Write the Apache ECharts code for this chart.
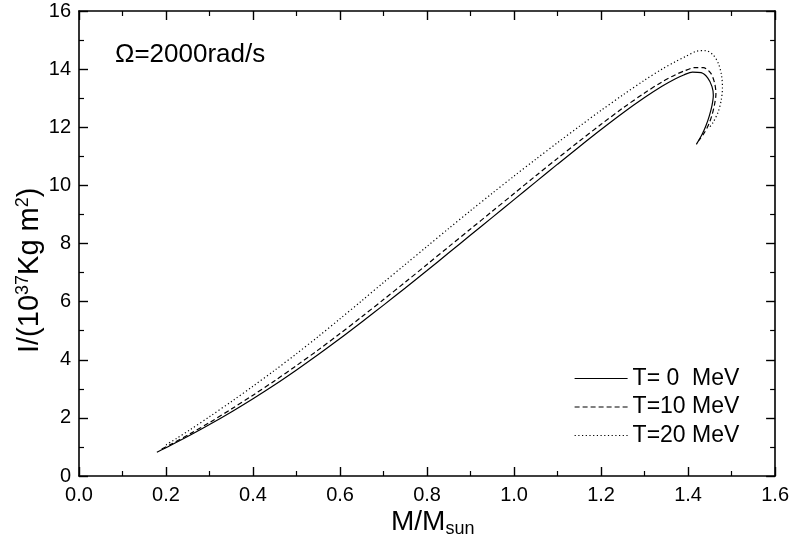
<!DOCTYPE html>
<html>
<head>
<meta charset="utf-8">
<script src="https://cdn.jsdelivr.net/npm/echarts@6/dist/echarts.min.js"></script>
<style>html,body{margin:0;padding:0;background:#fff}#c{width:792px;height:556px}</style>
</head>
<body>
<div id="c"></div>
<script>
var seriesNames = ['T= 0  MeV', 'T=10 MeV', 'T=20 MeV'];
var xTicks = [0.0, 0.2, 0.4, 0.6, 0.8, 1.0, 1.2, 1.4, 1.6];
var yTicks = [0, 2, 4, 6, 8, 10, 12, 14, 16];

var massT0 = [0.179,0.21,0.255,0.30,0.354,0.40,0.45,0.50,0.55,0.60,0.65,0.70,0.75,0.80,0.85,0.90,0.95,1.00,1.05,1.10,1.15,1.20,1.25,1.30,1.34,1.37,1.39,1.41,1.43,1.445,1.455,1.458,1.455,1.449,1.441,1.432,1.419];
var inerT0 = [0.82,1.05,1.40,1.77,2.24,2.66,3.14,3.65,4.18,4.73,5.30,5.88,6.47,7.07,7.68,8.29,8.90,9.51,10.12,10.73,11.33,11.92,12.49,13.02,13.41,13.66,13.80,13.90,13.88,13.70,13.40,13.10,12.75,12.40,12.05,11.75,11.41];

var massT10 = [0.19,0.21,0.255,0.30,0.354,0.40,0.45,0.50,0.55,0.60,0.65,0.70,0.75,0.80,0.85,0.90,0.95,1.00,1.05,1.10,1.15,1.20,1.25,1.30,1.34,1.37,1.39,1.415,1.435,1.452,1.461,1.464,1.461,1.455,1.446,1.436,1.425];
var inerT10 = [0.93,1.08,1.45,1.84,2.34,2.78,3.28,3.80,4.34,4.90,5.48,6.07,6.67,7.28,7.89,8.50,9.11,9.72,10.33,10.93,11.52,12.10,12.66,13.18,13.56,13.80,13.93,14.05,14.05,13.86,13.52,13.15,12.80,12.42,12.05,11.78,11.55];

var massT20 = [0.20,0.225,0.255,0.30,0.354,0.40,0.45,0.50,0.55,0.60,0.65,0.70,0.75,0.80,0.85,0.90,0.95,1.00,1.05,1.10,1.15,1.20,1.25,1.30,1.34,1.37,1.395,1.42,1.44,1.458,1.47,1.477,1.479,1.476,1.469,1.458,1.447];
var inerT20 = [1.07,1.30,1.59,2.04,2.60,3.09,3.64,4.21,4.80,5.41,6.03,6.66,7.28,7.90,8.52,9.13,9.73,10.32,10.90,11.47,12.03,12.58,13.11,13.62,14.00,14.25,14.44,14.62,14.64,14.48,14.18,13.78,13.35,12.92,12.52,12.18,11.95];

function pairs(a, b) { return a.map(function (v, i) { return [v, b[i]]; }); }

var FONT = 'Liberation Sans, Arial, sans-serif';
var chart = echarts.init(document.getElementById('c'), null, {renderer: 'canvas'});

function xAx(pos, labels) {
  return {
    type: 'value', position: pos, min: xTicks[0], max: xTicks[xTicks.length - 1], interval: 0.2,
    axisLine: {show: true, onZero: false, lineStyle: {color: '#000', width: 1.6}},
    axisTick: {show: true, inside: true, length: 9, lineStyle: {color: '#000', width: 1.4}},
    minorTick: {show: true, splitNumber: 2, length: 5, lineStyle: {color: '#000', width: 1.2}},
    splitLine: {show: false}, minorSplitLine: {show: false},
    axisLabel: {show: labels, color: '#000', fontSize: 20, fontFamily: FONT, margin: 9,
      formatter: function (v) { return v.toFixed(1); }}
  };
}
function yAx(pos, labels) {
  return {
    type: 'value', position: pos, min: yTicks[0], max: yTicks[yTicks.length - 1], interval: 2,
    axisLine: {show: true, onZero: false, lineStyle: {color: '#000', width: 1.6}},
    axisTick: {show: true, inside: true, length: 9, lineStyle: {color: '#000', width: 1.4}},
    minorTick: {show: true, splitNumber: 2, length: 5, lineStyle: {color: '#000', width: 1.2}},
    splitLine: {show: false}, minorSplitLine: {show: false},
    axisLabel: {show: labels, color: '#000', fontSize: 20, fontFamily: FONT, margin: 8}
  };
}

function ser(name, data, type) {
  return {
    name: name, type: 'line', data: data, symbol: 'none', showSymbol: false, smooth: 0.3,
    xAxisIndex: 0, yAxisIndex: 0,
    lineStyle: {color: '#000', width: 1.2, type: type}, itemStyle: {color: '#000'},
    emphasis: {disabled: true}, animation: false
  };
}

chart.setOption({
  animation: false,
  backgroundColor: '#fff',
  grid: {left: 79, right: 16, top: 11, bottom: 80, containLabel: false},
  xAxis: [xAx('bottom', true), xAx('top', false)],
  yAxis: [yAx('left', true), yAx('right', false)],
  legend: {
    orient: 'vertical', left: 574, top: 367, padding: 0, itemWidth: 53, itemHeight: 14, itemGap: 5.5, itemTextGap: 10,
    data: seriesNames,
    itemStyle: {opacity: 0},
    lineStyle: {width: 1.2},
    textStyle: {color: '#000', fontSize: 23, fontFamily: FONT, lineHeight: 23}
  },
  graphic: [
    {type: 'text', left: 115, top: 42, style: {text: 'Ω=2000rad/s', fill: '#000', font: '26px ' + FONT}},
    {type: 'text', left: 391, top: 508, style: {
      text: 'M/M{sub|sun}', fill: '#000', font: '28px ' + FONT,
      rich: {sub: {fontSize: 18, fontFamily: FONT, verticalAlign: 'bottom', padding: [15, 0, 0, 0]}}}},
    {type: 'text', x: 14, y: 353, rotation: Math.PI / 2, style: {
      text: 'I/(10{sup|37}Kg m{sup|2})', fill: '#000', font: '29px ' + FONT,
      rich: {sup: {fontSize: 18, fontFamily: FONT, padding: [0, 0, 13, 0]}}}}
  ],
  series: [
    ser(seriesNames[0], pairs(massT0, inerT0), 'solid'),
    ser(seriesNames[1], pairs(massT10, inerT10), [5, 3]),
    ser(seriesNames[2], pairs(massT20, inerT20), [1.2, 2.5])
  ]
});
</script>
</body>
</html>
